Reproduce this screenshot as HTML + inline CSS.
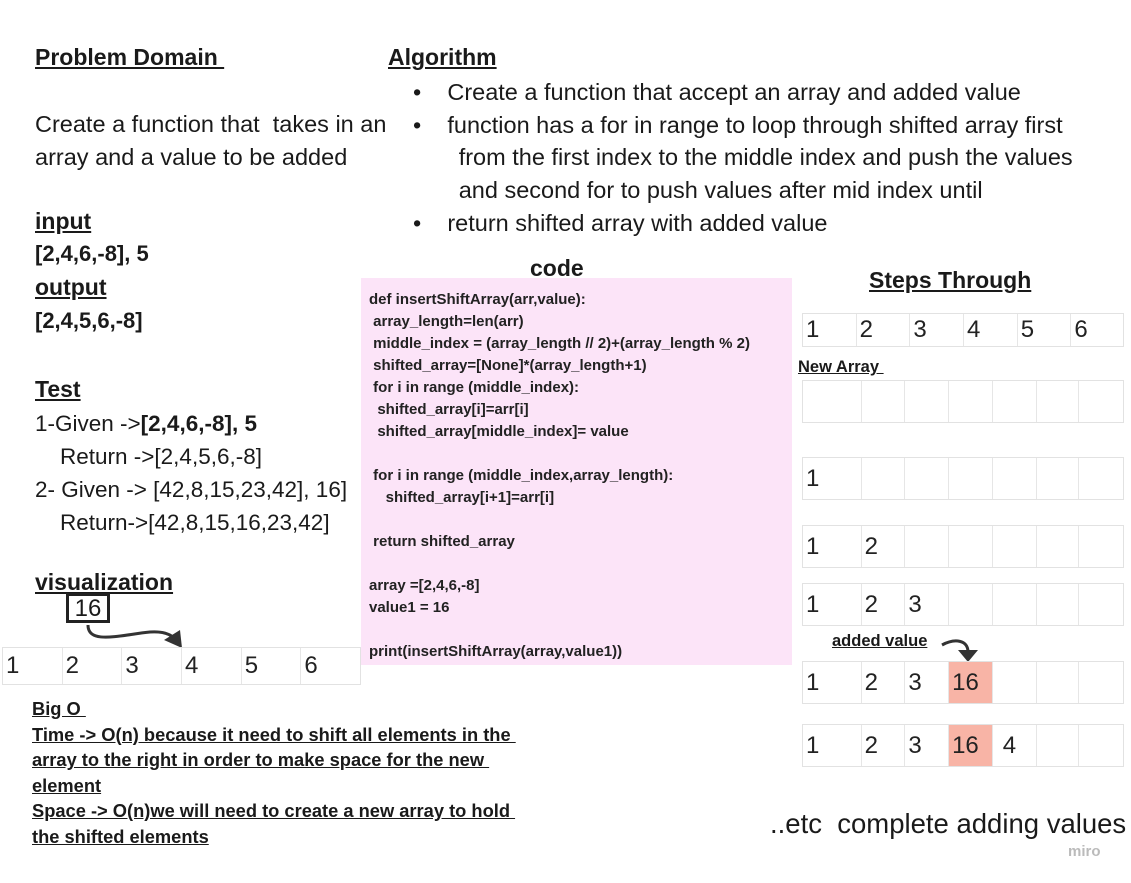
<!DOCTYPE html>
<html><head><style>
body{margin:0;width:1131px;height:883px;background:#fff;position:relative;overflow:hidden;font-family:"Liberation Sans",sans-serif;color:#1a1a1a}
.a{position:absolute;white-space:nowrap}
.h{font-weight:bold;text-decoration:underline;font-size:23px}
.t{font-size:23.5px}
.row{position:absolute;display:flex;border:1px solid #e2e2e2;box-sizing:border-box}
.row div{border-right:1px solid #e6e6e6;box-sizing:border-box;font-size:24px;padding-left:3px;display:flex;align-items:center;color:#222}
.row div:last-child{border-right:none}
.code{position:absolute;left:361px;top:278px;width:431px;height:387px;background:#fce4f8}
.code pre{margin:0;padding:11px 0 0 8px;font-family:"Liberation Sans",sans-serif;font-weight:bold;font-size:15px;line-height:22px;color:#222}
.bo{font-weight:bold;text-decoration:underline;font-size:18.3px;line-height:25.5px}
</style></head><body>
<div class="a h" style="left:35px;top:44px">Problem Domain&nbsp;</div>
<div class="a t" style="left:35px;top:108px;line-height:33px">Create a function that&nbsp; takes in an<br>array and a value to be added</div>
<div class="a h" style="left:35px;top:208px">input</div>
<div class="a t" style="left:35px;top:241px;font-weight:bold;font-size:22px">[2,4,6,-8], 5</div>
<div class="a h" style="left:35px;top:274px">output</div>
<div class="a t" style="left:35px;top:308px;font-weight:bold;font-size:22px">[2,4,5,6,-8]</div>
<div class="a h" style="left:35px;top:376px">Test</div>
<div class="a t" style="left:35px;top:407px;line-height:33px;font-size:22.5px">1-Given -&gt;<b>[2,4,6,-8], 5</b><br>&nbsp;&nbsp;&nbsp; Return -&gt;[2,4,5,6,-8]<br>2- Given -&gt; [42,8,15,23,42], 16]<br>&nbsp;&nbsp;&nbsp; Return-&gt;[42,8,15,16,23,42]</div>
<div class="a h" style="left:35px;top:569px">visualization</div>
<div class="a" style="left:66px;top:593px;width:44px;height:30px;border:3px solid #222;box-sizing:border-box;font-size:24px;text-align:center;line-height:26px">16</div>
<svg class="a" style="left:0;top:0" width="1131" height="883">
<path d="M88 625 C88 645,120 635,150 632 C165 631,172 635,176 640" fill="none" stroke="#333" stroke-width="3"/>
<polygon points="164,640 182,648 180,630" fill="#333"/>
<path d="M942 645 C955 638,968 640,968 652" fill="none" stroke="#333" stroke-width="3"/>
<polygon points="958,650 978,650 968,662" fill="#333"/>
</svg>
<div class="row" style="left:2px;top:647px;width:359px;height:38px"><div style="width:60px">1</div><div style="width:60px">2</div><div style="width:60px">3</div><div style="width:60px">4</div><div style="width:60px">5</div><div style="width:59px">6</div></div>
<div class="a h" style="left:388px;top:44px">Algorithm</div>
<div class="a t" style="left:413px;top:76px;line-height:32.7px">•&nbsp;&nbsp;&nbsp;&nbsp;Create a function that accept an array and added value<br>•&nbsp;&nbsp;&nbsp;&nbsp;function has a for in range to loop through shifted array first<br>&nbsp;&nbsp;&nbsp;&nbsp;&nbsp;&nbsp;&nbsp;from the first index to the middle index and push the values<br>&nbsp;&nbsp;&nbsp;&nbsp;&nbsp;&nbsp;&nbsp;and second for to push values after mid index until<br>•&nbsp;&nbsp;&nbsp;&nbsp;return shifted array with added value</div>
<div class="a h" style="left:530px;top:255px">code</div>
<div class="code"><pre>def insertShiftArray(arr,value):
 array_length=len(arr)
 middle_index = (array_length // 2)+(array_length % 2)
 shifted_array=[None]*(array_length+1)
 for i in range (middle_index):
  shifted_array[i]=arr[i]
  shifted_array[middle_index]= value

 for i in range (middle_index,array_length):
    shifted_array[i+1]=arr[i]

 return shifted_array

array =[2,4,6,-8]
value1 = 16

print(insertShiftArray(array,value1))</pre></div>
<div class="a h" style="left:869px;top:267px">Steps Through</div>
<div class="row" style="left:802px;top:313px;width:322px;height:34px"><div style="width:54px">1</div><div style="width:54px">2</div><div style="width:54px">3</div><div style="width:54px">4</div><div style="width:54px">5</div><div style="width:52px">6</div></div>
<div class="a" style="left:798px;top:358px;font-weight:bold;text-decoration:underline;font-size:16.5px">New Array&nbsp;</div>
<div class="row" style="left:802px;top:380px;width:322px;height:43px"><div style="width:59px"></div><div style="width:44px"></div><div style="width:44px"></div><div style="width:44px"></div><div style="width:44px"></div><div style="width:43px"></div><div style="width:44px"></div></div>
<div class="row" style="left:802px;top:457px;width:322px;height:43px"><div style="width:59px">1</div><div style="width:44px"></div><div style="width:44px"></div><div style="width:44px"></div><div style="width:44px"></div><div style="width:43px"></div><div style="width:44px"></div></div>
<div class="row" style="left:802px;top:525px;width:322px;height:43px"><div style="width:59px">1</div><div style="width:44px">2</div><div style="width:44px"></div><div style="width:44px"></div><div style="width:44px"></div><div style="width:43px"></div><div style="width:44px"></div></div>
<div class="row" style="left:802px;top:583px;width:322px;height:43px"><div style="width:59px">1</div><div style="width:44px">2</div><div style="width:44px">3</div><div style="width:44px"></div><div style="width:44px"></div><div style="width:43px"></div><div style="width:44px"></div></div>
<div class="a" style="left:832px;top:632px;font-weight:bold;text-decoration:underline;font-size:16.5px">added value</div>
<div class="row" style="left:802px;top:661px;width:322px;height:43px"><div style="width:59px">1</div><div style="width:44px">2</div><div style="width:44px">3</div><div style="width:44px;background:#f8b4a6">16</div><div style="width:44px"></div><div style="width:43px"></div><div style="width:44px"></div></div>
<div class="row" style="left:802px;top:724px;width:322px;height:43px"><div style="width:59px">1</div><div style="width:44px">2</div><div style="width:44px">3</div><div style="width:44px;background:#f8b4a6">16</div><div style="width:44px;padding-left:10px">4</div><div style="width:43px"></div><div style="width:44px"></div></div>
<div class="a bo" style="left:32px;top:696px">Big O&nbsp;<br>Time -&gt; O(n) because it need to shift all elements in the&nbsp;<br>array to the right in order to make space for the new&nbsp;<br>element<br>Space -&gt; O(n)we will need to create a new array to hold&nbsp;<br>the shifted elements</div>
<div class="a" style="left:770px;top:808px;font-size:27.5px">..etc&nbsp; complete adding values</div>
<div class="a" style="left:1068px;top:843px;font-size:15px;color:#bbb;font-weight:bold">miro</div>
</body></html>
